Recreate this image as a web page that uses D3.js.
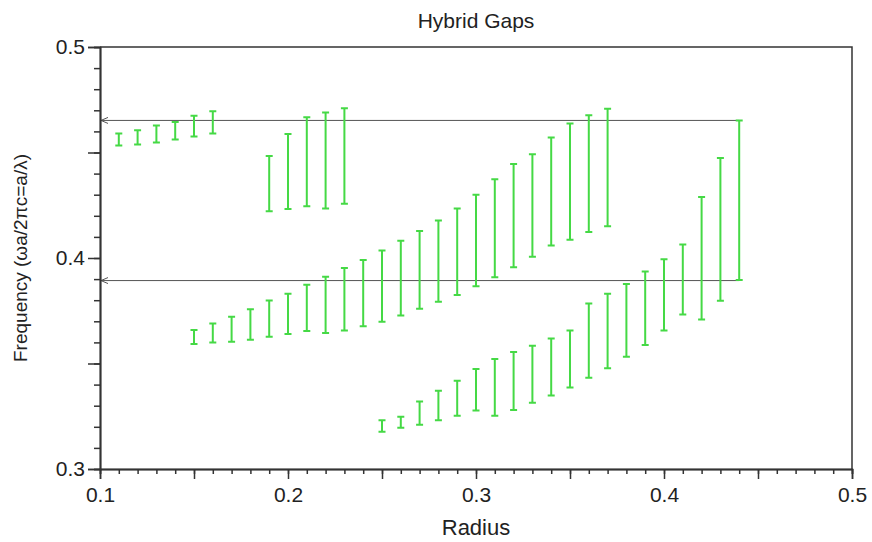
<!DOCTYPE html>
<html>
<head>
<meta charset="utf-8">
<script src="https://cdn.jsdelivr.net/npm/d3@7"></script>
<style>
  body { margin: 0; background: #fff; }
  text { font-family: "Liberation Sans", Arial, sans-serif; fill: #222; }
</style>
</head>
<body>
<div id="chart"></div>
<script>
// gap bands: radius, lower and upper edge of each gap
const band1Radius = [0.11, 0.12, 0.13, 0.14, 0.15, 0.16];
const band1Low = [0.4533, 0.4538, 0.4547, 0.4562, 0.4576, 0.4590];
const band1High = [0.4590, 0.4606, 0.4628, 0.4645, 0.4674, 0.4696];

const band2Radius = [0.19, 0.20, 0.21, 0.22, 0.23];
const band2Low = [0.4221, 0.4232, 0.4245, 0.4235, 0.4257];
const band2High = [0.4484, 0.4588, 0.4667, 0.4690, 0.4710];

const band3Radius = [0.15, 0.16, 0.17, 0.18, 0.19, 0.20, 0.21, 0.22, 0.23, 0.24, 0.25, 0.26,
  0.27, 0.28, 0.29, 0.30, 0.31, 0.32, 0.33, 0.34, 0.35, 0.36, 0.37];
const band3Low = [0.3592, 0.3599, 0.3603, 0.3613, 0.3627, 0.3640, 0.3654, 0.3645, 0.3656, 0.3676,
  0.3698, 0.3727, 0.3759, 0.3793, 0.3825, 0.3866, 0.3909, 0.3956, 0.4006, 0.4059, 0.4086, 0.4123, 0.4151];
const band3High = [0.3659, 0.3689, 0.3721, 0.3757, 0.3798, 0.3831, 0.3873, 0.3911, 0.3953, 0.3991,
  0.4036, 0.4082, 0.4128, 0.4178, 0.4235, 0.4300, 0.4373, 0.4446, 0.4492, 0.4571, 0.4638, 0.4677, 0.4707];

const band4Radius = [0.25, 0.26, 0.27, 0.28, 0.29, 0.30, 0.31, 0.32, 0.33, 0.34, 0.35, 0.36,
  0.37, 0.38, 0.39, 0.40, 0.41, 0.42, 0.43, 0.44];
const band4Low = [0.3176, 0.3196, 0.3210, 0.3231, 0.3252, 0.3277, 0.3252, 0.3280, 0.3314, 0.3348,
  0.3386, 0.3432, 0.3478, 0.3532, 0.3588, 0.3656, 0.3732, 0.3709, 0.3797, 0.3896];
const band4High = [0.3231, 0.3248, 0.3320, 0.3371, 0.3418, 0.3474, 0.3521, 0.3554, 0.3584, 0.3619,
  0.3656, 0.3784, 0.3830, 0.3877, 0.3936, 0.3994, 0.4064, 0.4289, 0.4474, 0.4652];

// reference lines (complete gap) drawn as arrows back to the axis
const arrowFreq = [0.4652, 0.3893];
const arrowFrom = 0.44;
const arrowTo = 0.1;

const xTicks = [0.1, 0.2, 0.3, 0.4, 0.5];
const yTicks = [0.3, 0.4, 0.5];

const width = 872;
const height = 542;
const margin = { top: 47, right: 20, bottom: 73, left: 100 };

const svg = d3.select("#chart")
  .append("svg")
  .attr("width", width)
  .attr("height", height);

const x = d3.scaleLinear()
  .domain([0.1, 0.5])
  .range([margin.left, width - margin.right]);

const y = d3.scaleLinear()
  .domain([0.3, 0.5])
  .range([height - margin.bottom, margin.top]);

const green = "#45d945";
const cap = 3.5;

const bands = [
  [band1Radius, band1Low, band1High],
  [band2Radius, band2Low, band2High],
  [band3Radius, band3Low, band3High],
  [band4Radius, band4Low, band4High],
];
const bars = bands.flatMap(([r, lo, hi]) => r.map((d, i) => ({ r: d, lo: lo[i], hi: hi[i] })));

// frame (top and right)
svg.append("path")
  .attr("d", `M${x(0.1)},${y(0.5)}H${x(0.5)}V${y(0.3)}`)
  .attr("fill", "none")
  .attr("stroke", "#333")
  .attr("stroke-width", 1.5);

// arrows
const arrowG = svg.append("g").attr("stroke", "#555").attr("fill", "none");
arrowFreq.forEach((f) => {
  arrowG.append("line")
    .attr("x1", x(arrowFrom)).attr("x2", x(arrowTo))
    .attr("y1", y(f)).attr("y2", y(f));
  arrowG.append("path")
    .attr("d", `M${x(arrowTo) + 8},${y(f) - 3}L${x(arrowTo) + 1},${y(f)}L${x(arrowTo) + 8},${y(f) + 3}`);
});

// error bars
const barG = svg.append("g")
  .attr("stroke", green)
  .attr("stroke-width", 2)
  .attr("fill", "none");

barG.selectAll("path")
  .data(bars)
  .join("path")
  .attr("d", (d) => {
    const cx = x(d.r), t = y(d.hi), b = y(d.lo);
    return `M${cx - cap},${t}H${cx + cap}M${cx},${t}V${b}M${cx - cap},${b}H${cx + cap}`;
  });

// axes
const xAxisMinor = d3.axisBottom(x).tickValues(d3.range(0.1, 0.5001, 0.01)).tickSize(5).tickFormat("");
const xAxisMajor = d3.axisBottom(x).tickValues(d3.range(0.1, 0.5001, 0.05)).tickSize(10).tickFormat("");
const xAxisLabels = d3.axisBottom(x).tickValues(xTicks).tickSize(0).tickPadding(18).tickFormat(d3.format(".1f"));

const yAxisMinor = d3.axisLeft(y).tickValues(d3.range(0.3, 0.5001, 0.01)).tickSize(6).tickFormat("");
const yAxisMajor = d3.axisLeft(y).tickValues(d3.range(0.3, 0.5001, 0.05)).tickSize(12).tickFormat("");
const yAxisLabels = d3.axisLeft(y).tickValues(yTicks).tickSize(0).tickPadding(15).tickFormat(d3.format(".1f"));

const xg = svg.append("g").attr("transform", `translate(0,${y(0.3)})`);
[xAxisMinor, xAxisMajor, xAxisLabels].forEach((a) => xg.append("g").call(a));
const yg = svg.append("g").attr("transform", `translate(${x(0.1)},0)`);
[yAxisMinor, yAxisMajor, yAxisLabels].forEach((a) => yg.append("g").call(a));

svg.selectAll(".domain").attr("stroke", "#333").attr("stroke-width", 1.5);
svg.selectAll(".tick line").attr("stroke", "#333").attr("stroke-width", 1.5);
svg.selectAll(".tick text")
  .style("font-family", "Liberation Sans, Arial, sans-serif")
  .style("font-size", "21px")
  .attr("fill", "#222");

// title and axis labels
svg.append("text")
  .attr("x", (x(0.1) + x(0.5)) / 2)
  .attr("y", 28)
  .attr("text-anchor", "middle")
  .style("font-size", "21px")
  .text("Hybrid Gaps");

svg.append("text")
  .attr("x", (x(0.1) + x(0.5)) / 2)
  .attr("y", 535)
  .attr("text-anchor", "middle")
  .style("font-size", "22px")
  .text("Radius");

svg.append("text")
  .attr("transform", `translate(27,${(y(0.3) + y(0.5)) / 2}) rotate(-90)`)
  .attr("text-anchor", "middle")
  .style("font-size", "19px")
  .text("Frequency (ωa/2πc=a/λ)");
</script>
</body>
</html>
